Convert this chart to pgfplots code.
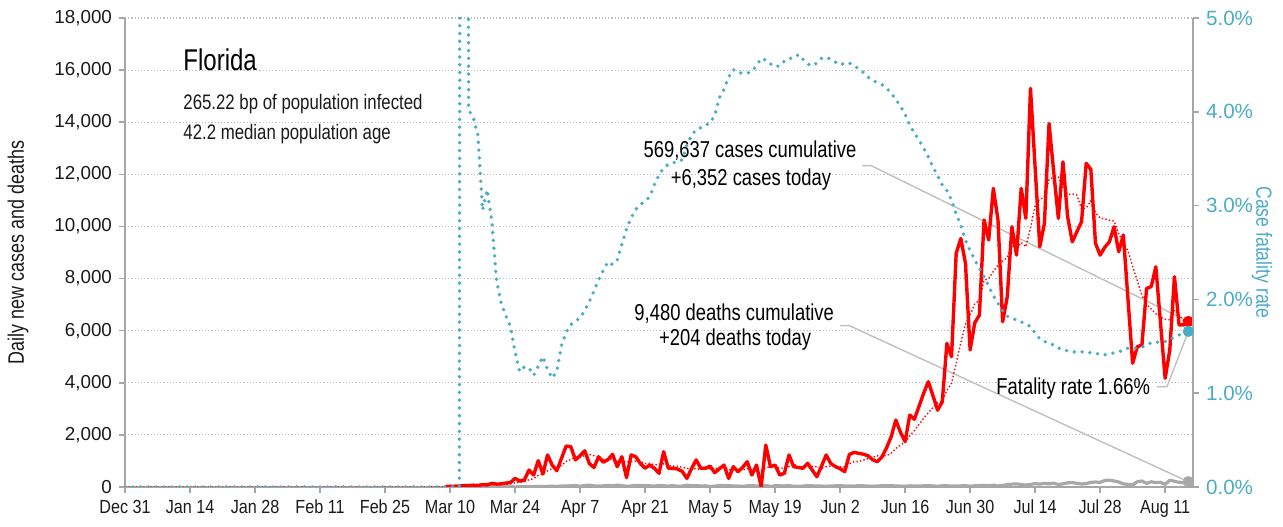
\documentclass[border=0pt]{standalone}
\usepackage{fontspec}
\setmainfont{Liberation Sans}[FakeStretch=0.8]
\newfontfamily\tickfont{Liberation Sans}
\newfontfamily\xtickfont{Liberation Sans}[FakeStretch=0.85]
\usepackage{pgfplots}
\pgfplotsset{compat=1.18}
\definecolor{cfrteal}{HTML}{4BACC6}
\definecolor{axgray}{HTML}{A6A6A6}
\definecolor{gridgray}{HTML}{BFBFBF}
\definecolor{leadgray}{HTML}{BFBFBF}
\definecolor{deathgray}{HTML}{A8A8A8}
\definecolor{txt}{HTML}{1A1A1A}
\begin{document}
\begin{tikzpicture}
\pgfplotsset{
  common/.style={
    scale only axis, width=534pt, height=234.5pt,
    xmin=0, xmax=230,
    tick align=outside, major tick length=3pt,
    tick style={draw=axgray, line width=0.8pt},
    axis line style={draw=axgray, line width=0.8pt},
    /pgf/number format/assume math mode=true,
  }
}
\begin{axis}[common, name=main,
  ymin=0, ymax=18000,
  axis x line*=bottom, axis y line*=left,
  xtick={0,14,...,224},
  xticklabels={Dec 31,Jan 14,Jan 28,Feb 11,Feb 25,Mar 10,Mar 24,Apr 7,Apr 21,May 5,May 19,Jun 2,Jun 16,Jun 30,Jul 14,Jul 28,Aug 11},
  xticklabel style={font=\xtickfont\fontsize{9.5}{11}\selectfont, text=txt},
  ytick={0,2000,...,18000},
  scaled y ticks=false,
  yticklabel={\pgfmathprintnumber[1000 sep={,}]{\tick}},
  yticklabel style={font=\tickfont\fontsize{9.4}{11}\selectfont, text=txt},
  ymajorgrids,
  grid style={draw=gridgray, line width=0.6pt, dash pattern=on 0.6pt off 1.0pt},
  ylabel={Daily new cases and deaths},
  ylabel style={at={(axis description cs:-0.1002,0.5)}, anchor=center, font=\fontsize{11.2}{13}\selectfont, text=txt},
]
% leader lines
\draw[leadgray, line width=0.7pt] (axis cs:158.7,12332) -- (axis cs:160.7,12332) -- (axis cs:229,6352);
\draw[leadgray, line width=0.7pt] (axis cs:154.0,6191) -- (axis cs:156.0,6191) -- (axis cs:229,204);
\draw[leadgray, line width=0.7pt] (axis cs:222.2,3850) -- (axis cs:224.4,3850) -- (axis cs:229,5976);
% deaths
\addplot[deathgray, line width=1.6pt, line join=round] coordinates {
(69,0)(70,0)(71,0)(72,2)(73,0)(74,1)(75,2)(76,2)(77,3)(78,2)(79,4)(80,3)(81,5)(82,6)(83,8)(84,4)(85,10)(86,12)(87,8)(88,15)(89,20)(90,18)(91,25)(92,30)(93,20)(94,35)(95,40)(96,45)(97,60)(98,30)(99,55)(100,70)(101,40)(102,35)(103,45)(104,60)(105,50)(106,70)(107,55)(108,25)(109,40)(110,60)(111,55)(112,50)(113,45)(114,35)(115,60)(116,45)(117,40)(118,50)(119,30)(120,35)(121,70)(122,45)(123,50)(124,40)(125,45)(126,20)(127,30)(128,60)(129,50)(130,55)(131,40)(132,35)(133,25)(134,45)(135,50)(136,40)(137,35)(138,60)(139,20)(140,45)(141,50)(142,40)(143,55)(144,30)(145,25)(146,35)(147,50)(148,45)(149,40)(150,35)(151,30)(152,40)(153,45)(154,55)(155,35)(156,40)(157,30)(158,50)(159,45)(160,35)(161,25)(162,40)(163,45)(164,45)(165,50)(166,40)(167,35)(168,30)(169,45)(170,40)(171,40)(172,45)(173,55)(174,40)(175,30)(176,45)(177,45)(178,40)(179,35)(180,45)(181,50)(182,30)(183,45)(184,55)(185,60)(186,50)(187,70)(188,40)(189,60)(190,90)(191,110)(192,120)(193,95)(194,75)(195,100)(196,130)(197,110)(198,140)(199,120)(200,150)(201,95)(202,120)(203,160)(204,170)(205,140)(206,115)(207,130)(208,180)(209,190)(210,180)(211,250)(212,260)(213,230)(214,190)(215,120)(216,100)(217,80)(218,200)(219,230)(220,140)(221,200)(222,170)(223,180)(224,100)(225,260)(226,220)(227,180)(228,160)(229,204)};
% cases moving average
\addplot[red, line width=0.7pt, dash pattern=on 0.7pt off 1.1pt] coordinates {
(0,0)(65,0)(66,4)(67,5)(68,7)(69,10)(70,13)(71,16)(72,21)(73,27)(74,34)(75,41)(76,47)(77,56)(78,64)(79,78)(80,86)(81,96)(82,107)(83,123)(84,157)(85,179)(86,197)(87,274)(88,323)(89,446)(90,493)(91,621)(92,709)(93,759)(94,824)(95,982)(96,1059)(97,1136)(98,1132)(99,1211)(100,1250)(101,1200)(102,1141)(103,1056)(104,1057)(105,1064)(106,977)(107,1014)(108,959)(109,969)(110,999)(111,977)(112,901)(113,910)(114,847)(115,871)(116,889)(117,826)(118,800)(119,796)(120,761)(121,706)(122,731)(123,686)(124,686)(125,686)(126,701)(127,694)(128,747)(129,767)(130,666)(131,674)(132,656)(133,649)(134,709)(135,674)(136,674)(137,629)(138,747)(139,774)(140,787)(141,714)(142,724)(143,779)(144,889)(145,766)(146,758)(147,768)(148,795)(149,776)(150,715)(151,779)(152,801)(153,809)(154,779)(155,771)(156,893)(157,969)(158,977)(159,1029)(160,1089)(161,1139)(162,1193)(163,1179)(164,1203)(165,1294)(166,1481)(167,1610)(168,1709)(169,1964)(170,2171)(171,2400)(172,2639)(173,2849)(174,3049)(175,3221)(176,3294)(177,3710)(178,3981)(179,4749)(180,5534)(181,6260)(182,6590)(183,7023)(184,7179)(185,7929)(186,8001)(187,8276)(188,8514)(189,8669)(190,8811)(191,9296)(192,9103)(193,9386)(194,9221)(195,9943)(196,10789)(197,11063)(198,11081)(199,11803)(200,11894)(201,11894)(202,11491)(203,11221)(204,11249)(205,11203)(206,10664)(207,10710)(208,10979)(209,10531)(210,10321)(211,10291)(212,10236)(213,10209)(214,9724)(215,9364)(216,9057)(217,8464)(218,7919)(219,7353)(220,7014)(221,6823)(222,6649)(223,6520)(224,6437)(225,6420)(226,6794)(227,6594)(228,6384)(229,6085)};
% daily cases
\addplot[red, line width=1.7pt, line join=round] coordinates {
(69,20)(70,25)(71,30)(72,40)(73,50)(74,55)(75,70)(76,60)(77,90)(78,80)(79,140)(80,110)(81,120)(82,150)(83,170)(84,330)(85,230)(86,270)(87,650)(88,460)(89,1010)(90,500)(91,1230)(92,840)(93,625)(94,1100)(95,1570)(96,1550)(97,1040)(98,1200)(99,1390)(100,900)(101,750)(102,1160)(103,950)(104,1050)(105,1250)(106,780)(107,1160)(108,360)(109,1230)(110,1160)(111,900)(112,720)(113,840)(114,720)(115,525)(116,1355)(117,720)(118,720)(119,690)(120,600)(121,330)(122,700)(123,1040)(124,720)(125,720)(126,800)(127,550)(128,700)(129,840)(130,330)(131,780)(132,590)(133,750)(134,970)(135,460)(136,840)(137,10)(138,1610)(139,780)(140,840)(141,460)(142,525)(143,1230)(144,780)(145,750)(146,720)(147,910)(148,650)(149,395)(150,800)(151,1230)(152,900)(153,780)(154,700)(155,590)(156,1250)(157,1330)(158,1290)(159,1260)(160,1200)(161,1050)(162,970)(163,1150)(164,1500)(165,1930)(166,2570)(167,2100)(168,1740)(169,2760)(170,2600)(171,3100)(172,3600)(173,4040)(174,3500)(175,2950)(176,3270)(177,5510)(178,5000)(179,8970)(180,9540)(181,8580)(182,5260)(183,6300)(184,6600)(185,10250)(186,9480)(187,11460)(188,10250)(189,6340)(190,7300)(191,9990)(192,8900)(193,11460)(194,10310)(195,15300)(196,12260)(197,9220)(198,10120)(199,13950)(200,12100)(201,10310)(202,12480)(203,10370)(204,9410)(205,9800)(206,10180)(207,12420)(208,12190)(209,9350)(210,8900)(211,9200)(212,9410)(213,9990)(214,9030)(215,9670)(216,7200)(217,4750)(218,5380)(219,5450)(220,7620)(221,7690)(222,8450)(223,6300)(224,4170)(225,5260)(226,8070)(227,6220)(228,6220)(229,6352)};
% end dots
\addplot[only marks, mark=*, mark size=2.6pt, deathgray] coordinates {(229,204)};
\addplot[only marks, mark=*, mark size=2.6pt, red] coordinates {(229,6352)};
% texts
\node[anchor=base west, inner sep=0pt, font=\fontsize{15}{17}\selectfont, text=black] at (axis cs:12.5,15966) {Florida};
\node[anchor=base west, inner sep=0pt, font=\fontsize{10.5}{12}\selectfont, text=txt] at (axis cs:12.5,14469) {265.22 bp of population infected};
\node[anchor=base west, inner sep=0pt, font=\fontsize{10.5}{12}\selectfont, text=txt] at (axis cs:12.5,13318) {42.2 median population age};
\node[anchor=base, inner sep=0pt, font=\fontsize{11.5}{13}\selectfont, text=black] at (axis cs:134.6,12627) {569,637 cases cumulative};
\node[anchor=base, inner sep=0pt, font=\fontsize{11.5}{13}\selectfont, text=black] at (axis cs:134.8,11552) {+6,352 cases today};
\node[anchor=base, inner sep=0pt, font=\fontsize{11.5}{13}\selectfont, text=black] at (axis cs:131.2,6409) {9,480 deaths cumulative};
\node[anchor=base, inner sep=0pt, font=\fontsize{11.5}{13}\selectfont, text=black] at (axis cs:131.4,5412) {+204 deaths today};
\node[anchor=base east, inner sep=0pt, font=\fontsize{11.5}{13}\selectfont, text=black] at (axis cs:220.8,3531) {Fatality rate 1.66\%};
\end{axis}
\begin{axis}[common,
  ymin=0, ymax=5,
  axis y line*=right, axis x line=none,
  ytick={0,1,2,3,4,5},
  yticklabels={0.0\%,1.0\%,2.0\%,3.0\%,4.0\%,5.0\%},
  yticklabel style={font=\tickfont\fontsize{10.3}{12}\selectfont, text=cfrteal},
  ylabel={Case fatality rate},
  ylabel style={at={(axis description cs:1.0646,0.5)}, anchor=center, rotate=180, font=\fontsize{11}{13}\selectfont, text=cfrteal},
]
\addplot[cfrteal, line width=1.9pt, line cap=round, dash pattern=on 0pt off 3.9pt] coordinates {
(0,0)(72,0)(73,60)(74,4.02)(75,3.94)(76,3.75)(77,2.95)(78,3.17)(79,2.83)(80,2.21)(81,1.96)(82,1.83)(83,1.71)(84,1.44)(85,1.23)(86,1.28)(87,1.27)(88,1.19)(89,1.29)(90,1.39)(91,1.25)(92,1.16)(93,1.24)(94,1.51)(95,1.65)(96,1.73)(97,1.77)(98,1.80)(99,1.88)(100,1.98)(101,2.09)(102,2.21)(103,2.31)(104,2.40)(105,2.37)(106,2.42)(107,2.59)(108,2.75)(109,2.87)(110,2.96)(111,3.01)(112,3.05)(113,3.09)(114,3.22)(115,3.33)(116,3.40)(117,3.44)(118,3.46)(119,3.46)(120,3.49)(121,3.64)(122,3.75)(123,3.81)(124,3.83)(125,3.86)(126,3.88)(127,3.96)(128,4.15)(129,4.24)(130,4.37)(131,4.45)(132,4.42)(133,4.41)(134,4.41)(135,4.43)(136,4.49)(137,4.57)(138,4.55)(139,4.51)(140,4.48)(141,4.49)(142,4.54)(143,4.57)(144,4.57)(145,4.61)(146,4.56)(147,4.51)(148,4.49)(149,4.52)(150,4.57)(151,4.58)(152,4.56)(153,4.53)(154,4.50)(155,4.52)(156,4.52)(157,4.49)(158,4.46)(159,4.42)(160,4.37)(161,4.34)(162,4.31)(163,4.29)(164,4.25)(165,4.20)(166,4.13)(167,4.06)(168,3.97)(169,3.86)(170,3.77)(171,3.70)(172,3.61)(173,3.52)(174,3.41)(175,3.32)(176,3.22)(177,3.16)(178,3.06)(179,2.91)(180,2.79)(181,2.63)(182,2.52)(183,2.42)(184,2.33)(185,2.24)(186,2.14)(187,2.04)(188,1.96)(189,1.88)(190,1.82)(191,1.80)(192,1.78)(193,1.76)(194,1.74)(195,1.71)(196,1.64)(197,1.58)(198,1.55)(199,1.54)(200,1.51)(201,1.48)(202,1.47)(203,1.45)(204,1.44)(205,1.44)(206,1.44)(207,1.44)(208,1.43)(209,1.42)(210,1.42)(211,1.41)(212,1.42)(213,1.43)(214,1.44)(215,1.46)(216,1.48)(217,1.48)(218,1.48)(219,1.49)(220,1.51)(221,1.54)(222,1.54)(223,1.55)(224,1.55)(225,1.57)(226,1.60)(227,1.62)(228,1.64)(229,1.66)};
\addplot[only marks, mark=*, mark size=2.6pt, cfrteal] coordinates {(229,1.66)};
\end{axis}
\pgfresetboundingbox
\path (main.south west) ++(-62.5pt,-20pt) coordinate (bl);
\path (main.north east) ++(45pt,9pt) coordinate (tr);
\path (bl) rectangle (tr);
\end{tikzpicture}
\end{document}
